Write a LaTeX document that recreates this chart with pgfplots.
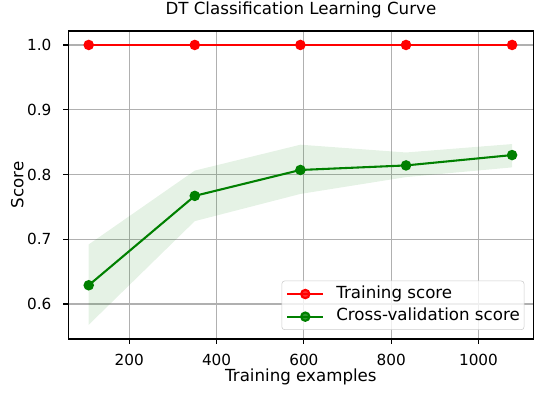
\documentclass[border=0pt]{standalone}
\usepackage{pgfplots}
\pgfplotsset{compat=1.18}
\usepackage{fontspec}
\setmainfont{DejaVu Sans}
\definecolor{mplred}{RGB}{255,0,0}
\definecolor{mplgreen}{RGB}{0,128,0}
\definecolor{gridgray}{RGB}{176,176,176}
\definecolor{legedge}{RGB}{204,204,204}
\begin{document}
\fontsize{10}{12}\selectfont
\begin{tikzpicture}
\begin{axis}[
    name=ax,
    scale only axis,
    width=334.9pt, height=221.8pt,
    xmin=60.3, xmax=1126,
    ymin=0.546, ymax=1.0216,
    xtick={200,400,600,800,1000},
    ytick={0.6,0.7,0.8,0.9,1.0},
    xticklabel style={/pgf/number format/set thousands separator={}},
    yticklabel style={/pgf/number format/fixed, /pgf/number format/fixed zerofill,
        /pgf/number format/precision=1},
    /pgf/number format/assume math mode=true,
    tick label style={font=\fontsize{11}{13}\selectfont},
    xticklabel style={anchor=base, inner sep=0pt, yshift=-15.8pt},
    yticklabel style={anchor=east, inner sep=0pt, xshift=-8.5pt},
    tick align=outside,
    xtick pos=left, ytick pos=left,
    major tick length=3.5pt,
    every tick/.style={black, line width=0.8pt},
    axis line style={line width=0.8pt},
    grid=major,
    major grid style={gridgray, line width=0.8pt},
    title={DT Classification Learning Curve},
    title style={font=\fontsize{12}{14}\selectfont, at={([yshift=6pt]axis description cs:0.5,1)}, anchor=base, inner sep=0pt},
    xlabel={Training examples},
    ylabel={Score},
    label style={font=\fontsize{12}{14}\selectfont, inner sep=0pt},
    xlabel style={at={([yshift=-30.7pt]axis description cs:0.5,0)}, anchor=base},
    ylabel style={at={([xshift=-32.4pt]axis description cs:0,0.5)}, anchor=base},
    legend cell align=left,
    legend style={
        at={(1,0)}, anchor=south east, xshift=-6.6pt, yshift=6.5pt,
        draw=legedge, fill=white, fill opacity=0.8, text opacity=1, draw opacity=1,
        rounded corners=2pt,
        inner xsep=3.1pt, inner ysep=3.4pt,
        row sep=4.3pt,
        font=\fontsize{12}{14}\selectfont,
        nodes={inner sep=0pt, text height=9.1pt, text depth=2.9pt},
        /tikz/every odd column/.append style={column sep=8.6pt},
    },
    legend image code/.code={
        \draw[mark repeat=2, mark phase=2, #1] plot coordinates {(0pt,0pt) (13pt,0pt) (26pt,0pt)};
    },
]
% cross-validation band (mean +/- std)
\addplot[draw=none, fill=mplgreen, fill opacity=0.1, forget plot] coordinates {
    (107,0.692) (350,0.806) (592,0.846) (834,0.834) (1077,0.847)
    (1077,0.811) (834,0.796) (592,0.770) (350,0.728) (107,0.568)
} -- cycle;
\addplot[mplred, line width=1.5pt, mark=*, mark size=3pt, mark options={solid}] coordinates {
    (107,1.0) (350,1.0) (592,1.0) (834,1.0) (1077,1.0)
};
\addlegendentry{Training score}
\addplot[mplgreen, line width=1.5pt, mark=*, mark size=3pt, mark options={solid}] coordinates {
    (107,0.629) (350,0.767) (592,0.807) (834,0.814) (1077,0.830)
};
\addlegendentry{Cross-validation score}
\end{axis}
\pgfresetboundingbox
\path (ax.south west) ++(-49.2pt,-43.9pt) coordinate (bl);
\path (ax.north east) ++(11.9pt,22.3pt) coordinate (tr);
\path[use as bounding box] (bl) rectangle (tr);
\end{tikzpicture}
\end{document}
